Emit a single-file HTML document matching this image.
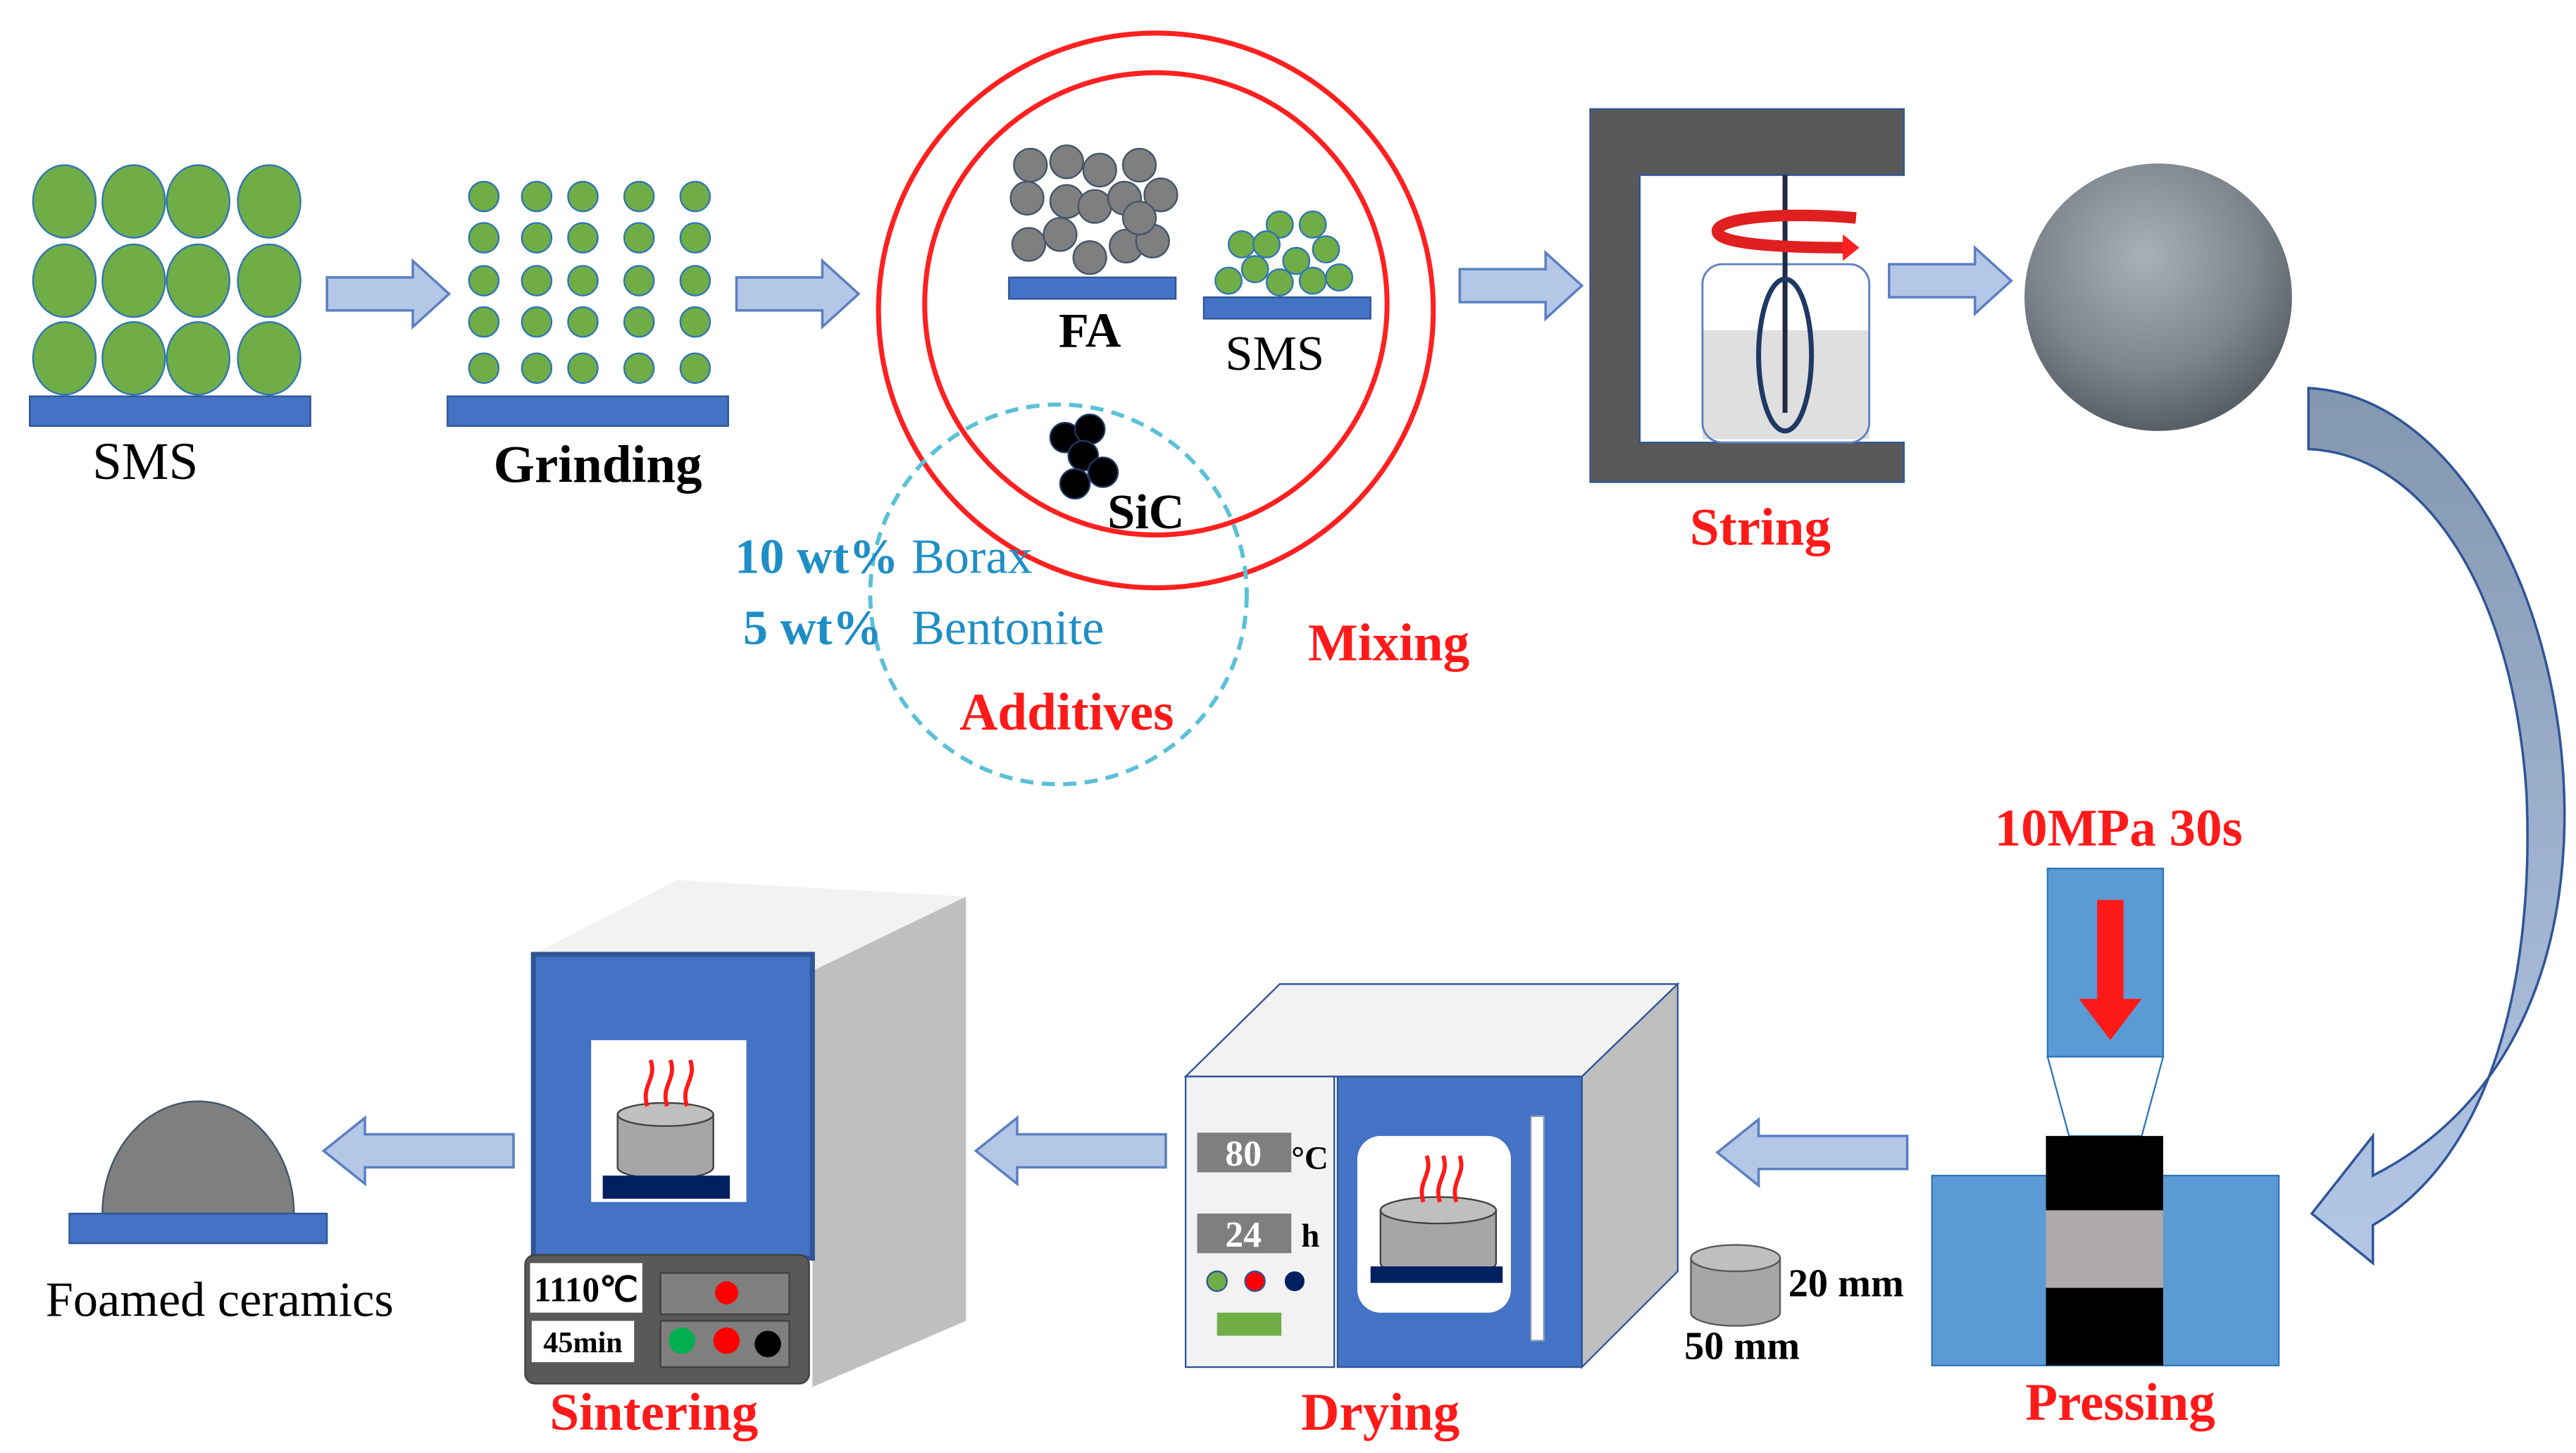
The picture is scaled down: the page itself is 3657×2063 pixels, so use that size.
<!DOCTYPE html>
<html><head><meta charset="utf-8"><style>html,body{margin:0;padding:0;background:#fff}svg{display:block}</style></head>
<body>
<svg width="3657" height="2063" viewBox="0 0 1560 880" xmlns="http://www.w3.org/2000/svg" font-family="Liberation Serif, serif">
<defs>
<radialGradient id="sph" cx="0.45" cy="0.35" r="0.7"><stop offset="0" stop-color="#aab0b8"/><stop offset="0.6" stop-color="#7d848c"/><stop offset="1" stop-color="#50565e"/></radialGradient>
<linearGradient id="curv" x1="0" y1="0" x2="0" y2="1"><stop offset="0" stop-color="#8497b0"/><stop offset="1" stop-color="#b4c7e7"/></linearGradient>
<g id="rarr"><path d="M0,-10 L52,-10 L52,-20 L74,0 L52,20 L52,10 L0,10 Z" fill="#b4c7e7" stroke="#5b7fc0" stroke-width="1.5"/></g>
<g id="larr"><path d="M0,-10 L-90,-10 L-90,-20 L-115,0 L-90,20 L-90,10 L0,10 Z" fill="#b4c7e7" stroke="#5b7fc0" stroke-width="1.5"/></g>
</defs>
<g fill="#70ad47" stroke="#2f75b5" stroke-width="1">
<ellipse cx="39" cy="122" rx="19" ry="22"/><ellipse cx="81" cy="122" rx="19" ry="22"/><ellipse cx="120" cy="122" rx="19" ry="22"/><ellipse cx="163" cy="122" rx="19" ry="22"/>
<ellipse cx="39" cy="170" rx="19" ry="22"/><ellipse cx="81" cy="170" rx="19" ry="22"/><ellipse cx="120" cy="170" rx="19" ry="22"/><ellipse cx="163" cy="170" rx="19" ry="22"/>
<ellipse cx="39" cy="217" rx="19" ry="22"/><ellipse cx="81" cy="217" rx="19" ry="22"/><ellipse cx="120" cy="217" rx="19" ry="22"/><ellipse cx="163" cy="217" rx="19" ry="22"/>
</g>
<rect x="18" y="240" width="170" height="18" fill="#4472c4" stroke="#2f5597"/>
<text x="88" y="290" font-size="32" text-anchor="middle">SMS</text>
<use href="#rarr" x="198" y="178"/>
<g fill="#70ad47" stroke="#2f75b5">
<circle cx="293" cy="119" r="9"/><circle cx="325" cy="119" r="9"/><circle cx="353" cy="119" r="9"/><circle cx="387" cy="119" r="9"/><circle cx="421" cy="119" r="9"/>
<circle cx="293" cy="144" r="9"/><circle cx="325" cy="144" r="9"/><circle cx="353" cy="144" r="9"/><circle cx="387" cy="144" r="9"/><circle cx="421" cy="144" r="9"/>
<circle cx="293" cy="170" r="9"/><circle cx="325" cy="170" r="9"/><circle cx="353" cy="170" r="9"/><circle cx="387" cy="170" r="9"/><circle cx="421" cy="170" r="9"/>
<circle cx="293" cy="195" r="9"/><circle cx="325" cy="195" r="9"/><circle cx="353" cy="195" r="9"/><circle cx="387" cy="195" r="9"/><circle cx="421" cy="195" r="9"/>
<circle cx="293" cy="223" r="9"/><circle cx="325" cy="223" r="9"/><circle cx="353" cy="223" r="9"/><circle cx="387" cy="223" r="9"/><circle cx="421" cy="223" r="9"/>
</g>
<rect x="271" y="240" width="170" height="18" fill="#4472c4" stroke="#2f5597"/>
<text x="362" y="292" font-size="32" font-weight="bold" text-anchor="middle">Grinding</text>
<use href="#rarr" x="446" y="178"/>
<ellipse cx="700" cy="188" rx="168" ry="168" fill="none" stroke="#ff2020" stroke-width="3"/>
<ellipse cx="700" cy="184" rx="140" ry="140" fill="none" stroke="#ff2020" stroke-width="3"/>
<ellipse cx="641" cy="360" rx="114" ry="115" fill="none" stroke="#5bc0d8" stroke-width="2.5" stroke-dasharray="8,5"/>
<g fill="#7f7f7f" stroke="#44546a" stroke-width="1">
<circle cx="624" cy="100" r="10"/><circle cx="646" cy="98" r="10"/><circle cx="666" cy="103" r="10"/><circle cx="690" cy="100" r="10"/>
<circle cx="622" cy="120" r="10"/><circle cx="646" cy="122" r="10"/><circle cx="663" cy="125" r="10"/><circle cx="681" cy="120" r="10"/><circle cx="703" cy="118" r="10"/>
<circle cx="623" cy="148" r="10"/><circle cx="642" cy="142" r="10"/><circle cx="660" cy="156" r="10"/><circle cx="682" cy="149" r="10"/><circle cx="698" cy="146" r="10"/><circle cx="690" cy="132" r="10"/>
</g>
<rect x="611" y="168" width="101" height="13" fill="#4472c4" stroke="#2f5597"/>
<text x="660" y="210" font-size="30" font-weight="bold" text-anchor="middle">FA</text>
<g fill="#70ad47" stroke="#2f75b5">
<circle cx="775" cy="136" r="8"/><circle cx="795" cy="136" r="8"/><circle cx="752" cy="148" r="8"/><circle cx="767" cy="148" r="8"/><circle cx="803" cy="151" r="8"/>
<circle cx="785" cy="158" r="8"/><circle cx="760" cy="163" r="8"/><circle cx="744" cy="170" r="8"/><circle cx="775" cy="171" r="8"/><circle cx="795" cy="170" r="8"/><circle cx="811" cy="168" r="8"/>
</g>
<rect x="729" y="180" width="101" height="13" fill="#4472c4" stroke="#2f5597"/>
<text x="772" y="224" font-size="30" text-anchor="middle">SMS</text>
<g fill="#000" stroke="#1f3864">
<circle cx="645" cy="265" r="9"/><circle cx="660" cy="260" r="9"/><circle cx="656" cy="276" r="9"/><circle cx="668" cy="286" r="9"/><circle cx="651" cy="293" r="9"/>
</g>
<text x="694" y="320" font-size="30" font-weight="bold" text-anchor="middle">SiC</text>
<text x="445" y="347" font-size="30" fill="#1f8ec6"><tspan font-weight="bold">10 wt%</tspan><tspan x="552">Borax</tspan></text>
<text x="450" y="390" font-size="30" fill="#1f8ec6"><tspan font-weight="bold">5 wt%</tspan><tspan x="552">Bentonite</tspan></text>
<text x="646" y="442" font-size="32" font-weight="bold" fill="#ff1a1a" text-anchor="middle">Additives</text>
<text x="841" y="400" font-size="32" font-weight="bold" fill="#ff1a1a" text-anchor="middle">Mixing</text>
<use href="#rarr" x="884" y="173"/>
<path d="M963,66 H1153 V106 H993 V268 H1153 V292 H963 Z" fill="#595959" stroke="#2f5597"/>
<rect x="1031" y="200" width="101" height="66" fill="#dcdcdc" opacity="0.9"/>
<rect x="1031" y="160" width="101" height="108" rx="12" fill="none" stroke="#5b7fc0" stroke-width="1.2"/>
<line x1="1081" y1="106" x2="1081" y2="250" stroke="#1f2a44" stroke-width="3"/>
<ellipse cx="1081" cy="215" rx="16" ry="46" fill="none" stroke="#1f3864" stroke-width="3"/>
<path d="M1124,132 C1080,128 1040,132 1040,140 C1040,148 1080,150 1118,150" fill="none" stroke="#e02020" stroke-width="7"/>
<path d="M1116,142 L1126,150 L1116,158 Z" fill="#ff2020"/>
<text x="1066" y="330" font-size="32" font-weight="bold" fill="#ff1a1a" text-anchor="middle">String</text>
<use href="#rarr" x="1144" y="170"/>
<circle cx="1307" cy="180" r="81" fill="url(#sph)"/>
<path d="M1398,235 C1490,240 1555,370 1553,500 C1551,600 1510,675 1437,712 L1437,688 L1400,735 L1437,765 L1437,742 C1510,700 1535,590 1530,480 C1522,360 1470,275 1398,272 Z" fill="url(#curv)" stroke="#2f5597" stroke-width="1.5"/>
<text x="1283" y="512" font-size="32" font-weight="bold" fill="#ff1a1a" text-anchor="middle">10MPa 30s</text>
<rect x="1240" y="526" width="70" height="114" fill="#5b9bd5" stroke="#2e75b6"/>
<path d="M1270,545 H1286 V605 H1297 L1278,630 L1259,605 H1270 Z" fill="#ff1a1a"/>
<path d="M1240,640 H1310 L1297,688 H1253 Z" fill="#fff" stroke="#2e75b6"/>
<rect x="1170" y="712" width="210" height="115" fill="#5b9bd5" stroke="#2e75b6"/>
<rect x="1239" y="688" width="71" height="139" fill="#000"/>
<rect x="1239" y="733" width="71" height="47" fill="#aeaaaa"/>
<text x="1284" y="860" font-size="32" font-weight="bold" fill="#ff1a1a" text-anchor="middle">Pressing</text>
<use href="#larr" x="1155" y="698"/>
<path d="M1024,762 V795 A27,8 0 0 0 1078,795 V762 Z" fill="#a6a6a6" stroke="#595959"/>
<ellipse cx="1051" cy="762" rx="27" ry="8" fill="#bfbfbf" stroke="#595959"/>
<text x="1083" y="785" font-size="24" font-weight="bold">20 mm</text>
<text x="1020" y="823" font-size="24" font-weight="bold">50 mm</text>
<path d="M718,652 L775,596 L1016,596 L958,652 Z" fill="#f2f2f2" stroke="#2f5597"/>
<path d="M958,652 L1016,596 L1016,770 L958,828 Z" fill="#bfbfbf" stroke="#2f5597"/>
<rect x="718" y="652" width="90" height="176" fill="#f2f2f2" stroke="#2f5597"/>
<rect x="810" y="652" width="148" height="176" fill="#4472c4" stroke="#2f5597"/>
<rect x="822" y="688" width="93" height="107" rx="14" fill="#fff"/>
<path d="M836,733 V765 A35,8 0 0 0 906,765 V733 Z" fill="#a6a6a6" stroke="#404040"/>
<ellipse cx="871" cy="733" rx="35" ry="8" fill="#bfbfbf" stroke="#404040"/>
<g fill="none" stroke="#ff1a1a" stroke-width="2.5"><path d="M862,728 C858,715 868,712 864,700"/><path d="M872,728 C868,715 878,712 874,700"/><path d="M882,728 C878,715 888,712 884,700"/></g>
<rect x="830" y="767" width="80" height="10" fill="#002060"/>
<rect x="927" y="676" width="8" height="136" fill="#fff" stroke="#8497b0"/>
<rect x="725" y="686" width="57" height="24" fill="#7f7f7f"/>
<text x="753" y="706" font-size="22" font-weight="bold" fill="#fff" text-anchor="middle">80</text>
<text x="782" y="708" font-size="20" font-weight="bold">°C</text>
<rect x="725" y="735" width="57" height="24" fill="#7f7f7f"/>
<text x="753" y="755" font-size="22" font-weight="bold" fill="#fff" text-anchor="middle">24</text>
<text x="788" y="755" font-size="20" font-weight="bold">h</text>
<circle cx="737" cy="776" r="6" fill="#70ad47" stroke="#2f5597"/><circle cx="760" cy="776" r="6" fill="#ff0000" stroke="#2f5597"/><circle cx="784" cy="776" r="6" fill="#002060"/>
<rect x="737" y="795" width="39" height="14" fill="#70ad47"/>
<text x="836" y="866" font-size="32" font-weight="bold" fill="#ff1a1a" text-anchor="middle">Drying</text>
<use href="#larr" x="706" y="697"/>
<path d="M323,578 L410,533 L585,543 L492,588 Z" fill="#f2f2f2"/>
<path d="M492,588 L585,543 L585,800 L492,840 Z" fill="#bfbfbf"/>
<rect x="323" y="578" width="169" height="184" fill="#4472c4" stroke="#2f5597" stroke-width="3"/>
<rect x="358" y="630" width="94" height="98" fill="#fff"/>
<path d="M374,675 V707 A29,7 0 0 0 432,707 V675 Z" fill="#a6a6a6" stroke="#404040"/>
<ellipse cx="403" cy="675" rx="29" ry="7" fill="#bfbfbf" stroke="#404040"/>
<g fill="none" stroke="#ff1a1a" stroke-width="2.5"><path d="M392,670 C388,657 398,654 394,642"/><path d="M404,670 C400,657 410,654 406,642"/><path d="M416,670 C412,657 422,654 418,642"/></g>
<rect x="365" y="712" width="77" height="14" fill="#002060"/>
<rect x="318" y="760" width="172" height="78" rx="6" fill="#595959" stroke="#404040"/>
<rect x="321" y="765" width="68" height="30" fill="#fff"/>
<text x="355" y="788" font-size="21" font-weight="bold" text-anchor="middle">1110℃</text>
<rect x="322" y="800" width="62" height="25" fill="#fff"/>
<text x="353" y="819" font-size="18" font-weight="bold" text-anchor="middle">45min</text>
<rect x="400" y="771" width="78" height="25" fill="#7f7f7f" stroke="#404040"/>
<rect x="400" y="800" width="78" height="28" fill="#7f7f7f" stroke="#404040"/>
<circle cx="440" cy="783" r="7" fill="#ff0000"/>
<circle cx="413" cy="812" r="8" fill="#00b050"/><circle cx="440" cy="812" r="8" fill="#ff0000"/><circle cx="465" cy="814" r="8" fill="#000"/>
<text x="396" y="866" font-size="32" font-weight="bold" fill="#ff1a1a" text-anchor="middle">Sintering</text>
<use href="#larr" x="311" y="697"/>
<path d="M62,735 A58,68 0 0 1 178,735 Z" fill="#7f7f7f" stroke="#44546a"/>
<rect x="42" y="735" width="156" height="18" fill="#4472c4" stroke="#2f5597"/>
<text x="133" y="797" font-size="30" text-anchor="middle">Foamed ceramics</text>
</svg>
</body></html>
